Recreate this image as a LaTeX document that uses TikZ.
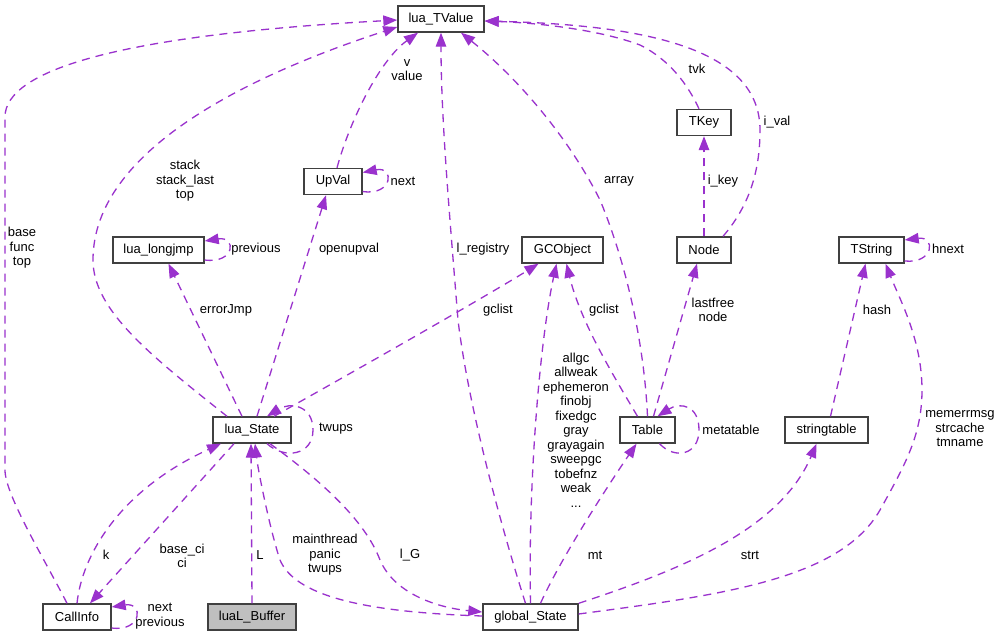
\documentclass[tikz,border=0pt]{standalone}
\usepackage{fontspec}
\setmainfont{Liberation Sans}
\usetikzlibrary{arrows.meta}
\definecolor{edgec}{HTML}{9A32CD}
\definecolor{boxc}{HTML}{404040}
\definecolor{bufc}{HTML}{BFBFBF}
\begin{document}
\begin{tikzpicture}[x=1pt,y=-1pt,
  cls/.style={draw=boxc, line width=1.4pt, fill=white, minimum height=26pt, inner sep=0pt, font=\fontsize{13}{14.5}\selectfont},
  rel/.style={draw=edgec, line width=1.3pt, dash pattern=on 8pt off 6pt, -{Triangle[length=14pt,width=10.5pt]}},
  lbl/.style={font=\fontsize{13}{14.5}\selectfont, align=center, inner sep=0pt}
]
\useasboundingbox[fill=white] (0,0) rectangle (1001,637);

% classes
\node[cls, minimum width=86pt] (tvalue) at (441,19) {lua\_TValue};
\node[cls, minimum width=58pt] (upval) at (333,181.5) {UpVal};
\node[cls, minimum width=91pt] (longjmp) at (158.5,250) {lua\_longjmp};
\node[cls, minimum width=54pt] (tkey) at (704,122.5) {TKey};
\node[cls, minimum width=81pt] (gcobject) at (562.5,250) {GCObject};
\node[cls, minimum width=54pt] (nodeN) at (704,250) {Node};
\node[cls, minimum width=65pt] (tstring) at (871.5,250) {TString};
\node[cls, minimum width=78pt] (luastate) at (252,430) {lua\_State};
\node[cls, minimum width=55pt] (table) at (647.5,430) {Table};
\node[cls, minimum width=83pt] (stringtable) at (826.5,430) {stringtable};
\node[cls, minimum width=68pt] (callinfo) at (77,617) {CallInfo};
\node[cls, minimum width=88pt, fill=bufc] (buffer) at (252,617) {luaL\_Buffer};
\node[cls, minimum width=95pt] (gstate) at (530.5,617) {global\_State};

% relations
\draw[rel] ([xshift=-10pt]callinfo.north) .. controls (45,560) and (5,495) .. (5,470) -- (5,117) .. controls (5,70) and (120,35) .. ([yshift=-1pt]tvalue.west);
\draw[rel] ([xshift=-25pt]luastate.north) .. controls (150,355) and (93,310) .. (93,260) .. controls (93,150) and (250,75) .. ([yshift=-8pt]tvalue.west);
\draw[rel] ([xshift=4pt]upval.north) .. controls (350,120) and (380,60) .. ([xshift=-23pt]tvalue.south);
\draw[rel] ([yshift=-10pt]upval.east) .. controls (393,196) and (395,166) .. ([yshift=9pt]upval.east);
\draw[rel] ([yshift=-10pt]longjmp.east) .. controls (235,264) and (237,236) .. ([yshift=9pt]longjmp.east);
\draw[rel] ([xshift=-10pt]luastate.north) -- ([xshift=10pt]longjmp.south);
\draw[rel] ([xshift=5pt]luastate.north) -- ([xshift=-7pt]upval.south);
\draw[rel] ([xshift=22pt]luastate.north) .. controls (330,385) and (480,300) .. ([xshift=-24pt]gcobject.south);
\draw[rel] ([xshift=15pt]luastate.south) .. controls (285,460) and (313,455) .. (313,430) .. controls (313,405) and (290,402) .. ([xshift=15pt]luastate.north);
\draw[rel] (callinfo.north) .. controls (82,555) and (120,490) .. ([xshift=-31pt]luastate.south);
\draw[rel] ([xshift=-18pt]luastate.south) -- ([xshift=13pt]callinfo.north);
\draw[rel] (buffer.north) -- ([xshift=-1pt]luastate.south);
\draw[rel] ([yshift=1pt]gstate.west) .. controls (360,612) and (295,595) .. (280,560) .. controls (270,530) and (258,470) .. ([xshift=3pt]luastate.south);
\draw[rel] ([xshift=18pt]luastate.south) .. controls (320,480) and (365,520) .. (380,560) .. controls (395,595) and (440,608) .. ([yshift=5pt]gstate.west);
\draw[rel] ([xshift=-5pt]gstate.north) .. controls (510,555) and (470,420) .. (458,320) .. controls (450,220) and (441,120) .. (tvalue.south);
\draw[rel] (gstate.north) .. controls (528,480) and (540,340) .. ([xshift=-6pt]gcobject.south);
\draw[rel] ([xshift=-10pt]table.north) .. controls (610,370) and (580,320) .. ([xshift=4pt]gcobject.south);
\draw[rel] (table.north) .. controls (644,340) and (625,260) .. (600,200) .. controls (570,140) and (520,80) .. ([xshift=20pt]tvalue.south);
\draw[rel] ([xshift=6pt]table.north) -- ([xshift=-7pt]nodeN.south);
\draw[rel] ([xshift=12pt]table.south) .. controls (675,460) and (699,455) .. (699,430) .. controls (699,405) and (680,402) .. ([xshift=10pt]table.north);
\draw[rel] ([xshift=10pt]gstate.north) .. controls (560,560) and (605,490) .. ([xshift=-11pt]table.south);
\draw[rel] (gstate.north east) .. controls (680,570) and (780,530) .. ([xshift=-10pt]stringtable.south);
\draw[rel] ([yshift=3pt]gstate.east) .. controls (720,595) and (840,580) .. (880,510) .. controls (905,465) and (922,435) .. (922,390) .. controls (922,340) and (900,300) .. ([xshift=14pt]tstring.south);
\draw[rel] ([xshift=4pt]stringtable.north) -- ([xshift=-6pt]tstring.south);
\draw[rel] ([yshift=-11pt]tstring.east) .. controls (934,264) and (936,236) .. ([yshift=10pt]tstring.east);
\draw[rel] (nodeN.north) -- (tkey.south);
\draw[rel] ([xshift=-5pt]tkey.north) .. controls (688,85) and (670,60) .. (640,45) .. controls (600,30) and (540,23) .. ([yshift=-2pt]tvalue.east);
\draw[rel] ([xshift=19pt]nodeN.north) .. controls (750,205) and (760,170) .. (760,130) .. controls (760,50) and (650,25) .. ([yshift=-2pt]tvalue.east);
\draw[rel] ([yshift=-11pt]callinfo.east) .. controls (142,632) and (144,602) .. ([yshift=10pt]callinfo.east);

% labels
\node[lbl] (la1) at (22,248) {base\\func\\top};
\node[lbl] (la2) at (185,181) {stack\\stack\_last\\top};
\node[lbl] (la3) at (407,70) {v\\value};
\node[lbl] (la4) at (403,181) {next};
\node[lbl] (la5) at (256,249) {previous};
\node[lbl] (la6) at (349,249) {openupval};
\node[lbl] (la7) at (483,249) {l\_registry};
\node[lbl] (la8) at (226,310) {errorJmp};
\node[lbl] (la9) at (498,310) {gclist};
\node[lbl] (la10) at (697,69) {tvk};
\node[lbl] (la11) at (777,122) {i\_val};
\node[lbl] (la12) at (619,181) {array};
\node[lbl] (la13) at (723,181) {i\_key};
\node[lbl] (la14) at (948,249) {hnext};
\node[lbl] (la15) at (604,310) {gclist};
\node[lbl] (la16) at (713,310) {lastfree\\node};
\node[lbl] (la17) at (877,310) {hash};
\node[lbl] (la18) at (336,429) {twups};
\node[lbl] (la19) at (106,555) {k};
\node[lbl] (la20) at (182,556) {base\_ci\\ci};
\node[lbl] (la21) at (260,555) {L};
\node[lbl] (la22) at (325,555) {mainthread\\panic\\twups};
\node[lbl] (la23) at (410,555) {l\_G};
\node[lbl] (la24) at (160,616) {next\\previous};
\node[lbl] (la25) at (576,430) {allgc\\allweak\\ephemeron\\finobj\\fixedgc\\gray\\grayagain\\sweepgc\\tobefnz\\weak\\...};
\node[lbl] (la26) at (731,430) {metatable};
\node[lbl] (la27) at (960,429) {memerrmsg\\strcache\\tmname};
\node[lbl] (la28) at (595,555) {mt};
\node[lbl] (la29) at (750,555) {strt};
\end{tikzpicture}
\end{document}
